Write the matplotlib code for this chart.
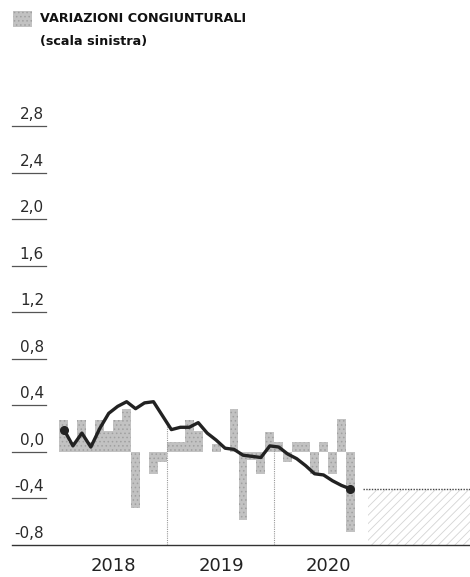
import numpy as np
import matplotlib
matplotlib.use("Agg")
import matplotlib.pyplot as plt
from matplotlib.patches import Rectangle

plt.rcParams["hatch.linewidth"] = 0.6

# monthly data, Jan 2018 - Sep 2020
bars_2018 = [0.27, 0.08, 0.27, 0.08, 0.27, 0.18, 0.27, 0.37, -0.48, 0.0, -0.19, -0.09]
bars_2019 = [0.08, 0.08, 0.27, 0.18, 0.0, 0.07, 0.0, 0.37, -0.59, -0.07, -0.19, 0.17]
bars_2020 = [0.08, -0.09, 0.08, 0.08, -0.19, 0.08, -0.19, 0.28, -0.69]

line_2018 = [0.19, 0.05, 0.16, 0.04, 0.20, 0.33, 0.39, 0.43, 0.37, 0.42, 0.43, 0.31]
line_2019 = [0.19, 0.21, 0.21, 0.25, 0.16, 0.10, 0.03, 0.02, -0.03, -0.04, -0.05, 0.05]
line_2020 = [0.04, -0.02, -0.06, -0.12, -0.19, -0.20, -0.25, -0.29, -0.32]

years = ["2018", "2019", "2020"]
yticks = [-0.8, -0.4, 0.0, 0.4, 0.8, 1.2, 1.6, 2.0, 2.4, 2.8]

bars = np.array(bars_2018 + bars_2019 + bars_2020)
line = np.array(line_2018 + line_2019 + line_2020)
n = len(bars)
idx = np.arange(n)

W, H = 470, 577
# pixel -> data mapping helpers
mw = 8.95       # pixels per month
x0 = 59.5       # pixel of Jan 2018 left edge
ppu = 116.25    # pixels per unit on y
y0 = 451.7      # pixel of zero line

def mx(px):
    return (px - x0) / mw

fig = plt.figure(figsize=(W / 100, H / 100), dpi=100)
ax = fig.add_axes([0, 0, 1, 1])
ax.set_xlim(mx(0), mx(W))
ax.set_ylim(-(H - y0) / ppu, y0 / ppu)
ax.axis("off")

ax.bar(idx, bars, width=1.0, align="edge", color="#c2c2c2", edgecolor="#a0a0a0",
       hatch="....", lw=0, zorder=1)

# year separators up to the line
for b in [12, 24]:
    top = np.interp(b, idx + 0.5, line)
    ax.plot([b, b], [-0.8, top], color="#9a9a9a", lw=0.8, ls=(0, (1, 1)), zorder=2)

ax.plot(idx + 0.5, line, color="#222222", lw=2.4, solid_capstyle="round", zorder=3)
ax.plot([0.5, n - 0.5], [line[0], line[-1]], "o", color="#222222", ms=5.5, zorder=4)

# forecast area
ax.plot([mx(363), mx(W)], [line[-1], line[-1]], color="#444444", lw=1, ls=(0, (1, 1)), zorder=2)
ax.add_patch(Rectangle((mx(368), -0.8), mx(W) - mx(368), line[-1] + 0.8,
                       facecolor="none", edgecolor="#d4d4d4", hatch="////", lw=0, zorder=1))

# baseline
ax.plot([mx(12), mx(W)], [-0.8, -0.8], color="#333333", lw=1.0, zorder=2)

# y tick labels with underline
for v in yticks:
    if v != -0.8:
        ax.plot([mx(12), mx(46)], [v, v], color="#555555", lw=0.9, zorder=2)
    ax.text(mx(44), v + 0.06, ("%.1f" % v).replace(".", ","), fontsize=11,
            color="#2a2a2a", ha="right", va="baseline")

# year labels
for lab, px in zip(years, [113.5, 221.5, 328]):
    ax.text(mx(px), -0.98, lab, fontsize=13, color="#222222", ha="center", va="center")

# legend
fig.patches.append(Rectangle((13 / W, 1 - 27 / H), 19 / W, 16 / H, transform=fig.transFigure,
                             facecolor="#c2c2c2", edgecolor="#a0a0a0", hatch="....", lw=0))
fig.text(40 / W, 1 - 19 / H, "VARIAZIONI CONGIUNTURALI", fontsize=9.2, fontweight="bold",
         color="#111111", ha="left", va="center")
fig.text(40 / W, 1 - 41 / H, "(scala sinistra)", fontsize=9.2, fontweight="bold",
         color="#111111", ha="left", va="center")

fig.savefig("out.png", dpi=100)
